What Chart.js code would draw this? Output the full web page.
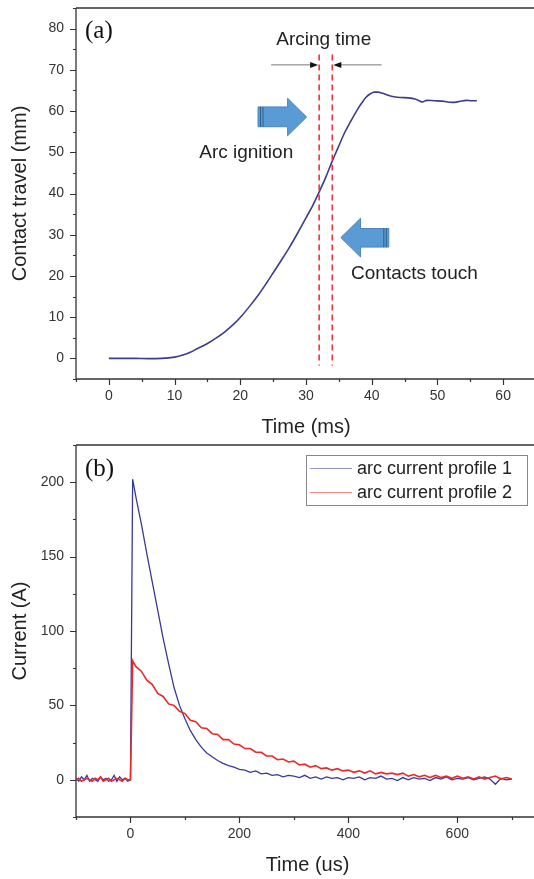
<!DOCTYPE html>
<html>
<head>
<meta charset="utf-8">
<script src="https://cdn.jsdelivr.net/npm/chart.js@4.4.1/dist/chart.umd.min.js"></script>
<style>
html,body{margin:0;padding:0;background:#fff;overflow:hidden;width:534px;height:879px}
#travel{position:absolute;left:0;top:0}
#current{position:absolute;left:0;top:440px}
</style>
</head>
<body>
<canvas id="travel" width="536" height="440"></canvas>
<canvas id="current" width="539" height="439"></canvas>
<script>
// (a) contact travel
let timeMs=[0,2,4,6,8,10,11,12.4,13.5,15,16.3,17.6,19,20.2,21.5,22.8,24,24.9,26.2,27.5,28.8,30,31,31.9,33,33.9,34.9,35.8,36.8,37.8,38.5,39.1,39.8,40.4,41,41.5,42.2,43,44.3,45.6,46.6,47.2,47.7,48.4,49.5,50.8,51.5,52.3,53.3,54.4,55.2,56];
let travelMm=[0,0,0,-0.05,0,0.3,0.7,1.5,2.4,3.6,4.9,6.4,8.3,10.3,12.8,15.5,18.3,20.5,23.7,27,30.6,34.1,37,40,43.9,47.5,51.2,54.5,57.5,60.3,62,63.3,64.2,64.6,64.6,64.4,64,63.6,63.3,63.2,62.9,62.5,62.2,62.6,62.5,62.4,62.2,62.1,62.3,62.6,62.5,62.5];
let xTicksMs=[0,10,20,30,40,50,60];
let yTicksMm=[0,10,20,30,40,50,60,70,80];
let arcIgnition=32, contactsTouch=34;

// (b) arc currents
let timeUs=[-100,-95,-90,-85,-80,-75,-70,-65,-60,-55,-50,-45,-40,-35,-30,-25,-20,-15,-10,-5,0,4,
10,20,30,40,50,60,70,80,90,100,110,120,130,140,150,160,170,180,190,200,
210,220,230,240,250,260,270,280,290,300,310,320,330,340,350,360,370,380,390,400,
410,420,430,440,450,460,470,480,490,500,510,520,530,540,550,560,570,580,590,600,
610,620,630,640,650,660,670,680,690,700];
let current1=[1,-1,2,0,3,-1,1,0,-1,2,0,1,-1,0,3,-1,2,0,1,-1,0,202,
190,172,152,133,114,95,78,62,50,41,33,27,22,18,15.5,13,11,9.5,8.5,7,
6.5,5,6,4,4.5,3,3.5,2,3,2.5,1.5,3,1,2,0.5,2,1,1.5,0,1.5,
1,2,0,1.5,1,2.5,0.5,1,-0.5,1.5,0,1.5,0.5,1,-0.5,1.5,0.5,2,0,1,
0.5,1.5,0,1,2,0.5,-3,1,0,0.5];
let current2=[0,1,-1,0,1,0,-1,1,0,2,-1,0,1,-1,0,1,0,-1,1,0,0,80,
76,73,67,64,58,56,51,50,46,44.5,40,39,35,34.5,31,30.5,27,27,24,23.5,
21,21,18.5,18.5,16,16,13.5,14,12,12.5,10,10.5,8.5,9.5,7.5,8,6.5,7.5,6,6.5,
5,6,4.5,6,4,5,4,4.5,3.5,4.5,2.5,3.5,2,3,1.5,3,1.5,2.5,1,2.5,
1,2,0.5,2,0.5,1.5,2.5,0.5,1.5,0.5];
let seriesNames=['arc current profile 1','arc current profile 2'];
let xTicksUs=[0,200,400,600];
let yTicksA=[0,50,100,150,200];

const SANS='"Liberation Sans", Arial, sans-serif';
const SERIF='"Liberation Serif", "Times New Roman", serif';
Chart.defaults.font.family=SANS;
Chart.defaults.animation=false;

function pts(xs,ys){return xs.map((x,i)=>({x:x,y:ys[i]}));}

// axis lines, top frame line and major/minor tick marks
const frame={
  id:'frame',
  afterDraw(chart){
    const ctx=chart.ctx, a=chart.chartArea, sx=chart.scales.x, sy=chart.scales.y;
    ctx.save();
    ctx.strokeStyle='#333';ctx.lineWidth=1.3;
    ctx.beginPath();
    ctx.moveTo(a.left,a.top);ctx.lineTo(a.left,a.bottom);ctx.lineTo(a.right,a.bottom);
    ctx.moveTo(a.left,a.top);ctx.lineTo(a.right,a.top);
    ctx.stroke();
    ctx.lineWidth=1.2;
    const opt=chart.options.plugins.frame;
    ctx.beginPath();
    for(let k=Math.ceil(sx.min/opt.xMinor);k*opt.xMinor<=sx.max;k++){
      const v=k*opt.xMinor, p=Math.round(sx.getPixelForValue(v))+0.5;
      const len=(v%opt.xMajor===0)?6:3;
      ctx.moveTo(p,a.bottom);ctx.lineTo(p,a.bottom+len);
    }
    for(let k=Math.ceil(sy.min/opt.yMinor);k*opt.yMinor<=sy.max;k++){
      const v=k*opt.yMinor, p=Math.round(sy.getPixelForValue(v))+0.5;
      const len=(v%opt.yMajor===0)?6:3;
      ctx.moveTo(a.left,p);ctx.lineTo(a.left-len,p);
    }
    ctx.stroke();
    ctx.fillStyle='#111';ctx.font='25px '+SERIF;ctx.textBaseline='middle';ctx.textAlign='left';
    ctx.fillText(opt.tag,a.left+9,opt.tagY);
    ctx.restore();
  }
};

function blockArrow(ctx,sx,sy,o){
  const dir=o.dir;
  const xt=sx.getPixelForValue(o.tail), xh=sx.getPixelForValue(o.tip), xb=sx.getPixelForValue(o.base);
  const y1=sy.getPixelForValue(o.top), y2=sy.getPixelForValue(o.bot);
  const s1=sy.getPixelForValue(o.shTop), s2=sy.getPixelForValue(o.shBot);
  const ym=(y1+y2)/2;
  ctx.beginPath();
  ctx.moveTo(xt,s1);ctx.lineTo(xb,s1);ctx.lineTo(xb,y1);ctx.lineTo(xh,ym);
  ctx.lineTo(xb,y2);ctx.lineTo(xb,s2);ctx.lineTo(xt,s2);ctx.closePath();
  ctx.fillStyle='#5b9bd5';ctx.fill();
  ctx.strokeStyle='#4a86bd';ctx.lineWidth=1;ctx.stroke();
  // striped tail
  ctx.strokeStyle='#2f5f8f';ctx.lineWidth=1;
  ctx.beginPath();
  for(let i=1;i<=2;i++){
    const x=xt+dir*i*2.5;
    ctx.moveTo(x,s1);ctx.lineTo(x,s2);
  }
  ctx.stroke();
}

const notes={
  id:'notes',
  afterDatasetsDraw(chart){
    const ctx=chart.ctx, sx=chart.scales.x, sy=chart.scales.y;
    ctx.save();
    // dashed markers
    ctx.strokeStyle='#e8353f';ctx.lineWidth=1.6;ctx.setLineDash([6,4]);
    [arcIgnition,contactsTouch].forEach(t=>{
      const p=sx.getPixelForValue(t);
      ctx.beginPath();ctx.moveTo(p,sy.getPixelForValue(73.7));ctx.lineTo(p,sy.getPixelForValue(-1.7));ctx.stroke();
    });
    ctx.setLineDash([]);
    // arcing-time dimension arrows
    const ya=sy.getPixelForValue(71.2);
    const xl=sx.getPixelForValue(24.7), xr=sx.getPixelForValue(41.5);
    const pa=sx.getPixelForValue(arcIgnition)-1, pb=sx.getPixelForValue(contactsTouch)+1;
    ctx.strokeStyle='#777';ctx.lineWidth=1;
    ctx.beginPath();ctx.moveTo(xl,ya);ctx.lineTo(pa-6,ya);ctx.moveTo(xr,ya);ctx.lineTo(pb+6,ya);ctx.stroke();
    ctx.fillStyle='#111';
    ctx.beginPath();ctx.moveTo(pa,ya);ctx.lineTo(pa-8,ya-3);ctx.lineTo(pa-8,ya+3);ctx.closePath();ctx.fill();
    ctx.beginPath();ctx.moveTo(pb,ya);ctx.lineTo(pb+8,ya-3);ctx.lineTo(pb+8,ya+3);ctx.closePath();ctx.fill();
    // block arrows
    blockArrow(ctx,sx,sy,{dir:1,tail:22.7,base:27.2,tip:30.1,top:63.1,bot:54,shTop:61,shBot:56.2});
    blockArrow(ctx,sx,sy,{dir:-1,tail:42.6,base:38.3,tip:35.3,top:34,bot:24.6,shTop:31.5,shBot:27});
    // labels
    ctx.fillStyle='#222';ctx.font='19px '+SANS;ctx.textAlign='center';ctx.textBaseline='middle';
    ctx.fillText('Arcing time',sx.getPixelForValue(32.7),sy.getPixelForValue(77.2));
    ctx.fillText('Arc ignition',sx.getPixelForValue(20.9),sy.getPixelForValue(49.8));
    ctx.fillText('Contacts touch',sx.getPixelForValue(46.5),sy.getPixelForValue(20.6));
    ctx.restore();
  }
};

const boxLegend={
  id:'boxLegend',
  afterDraw(chart){
    const ctx=chart.ctx;
    ctx.save();
    ctx.fillStyle='#fff';ctx.fillRect(306,15,221,50);
    ctx.strokeStyle='#888';ctx.lineWidth=1;ctx.strokeRect(306.5,15.5,221,50);
    ctx.font='18px '+SANS;ctx.textBaseline='middle';ctx.textAlign='left';
    chart.data.datasets.forEach((d,i)=>{
      const y=28+i*24;
      ctx.globalAlpha=0.55;ctx.strokeStyle=d.borderColor;ctx.lineWidth=1.2;
      ctx.beginPath();ctx.moveTo(310,y+0.5);ctx.lineTo(352,y+0.5);ctx.stroke();
      ctx.globalAlpha=1;ctx.fillStyle='#222';
      ctx.fillText(d.label,357,y+1);
    });
    ctx.restore();
  }
};

function axis(min,max,ticks,title,size,pad,tpad){
  return {
    type:'linear',min:min,max:max,
    afterBuildTicks(s){s.ticks=ticks.map(v=>({value:v}));},
    afterFit(s){
      if(s.isHorizontal()) s.height=size; else s.width=size;
      s.paddingTop=0;s.paddingBottom=0;s.paddingLeft=0;s.paddingRight=0;
    },
    grid:{display:false,drawTicks:false},
    border:{display:false},
    ticks:{font:{size:14},color:'#333',padding:pad},
    title:{display:true,text:title,font:{size:20},color:'#222',padding:tpad}
  };
}

new Chart(document.getElementById('travel'),{
  type:'line',
  data:{datasets:[{
    data:pts(timeMs,travelMm),
    borderColor:'#3c3c8e',borderWidth:1.6,pointRadius:0,cubicInterpolationMode:'monotone'
  }]},
  options:{
    responsive:false,
    layout:{padding:{top:8,right:0,left:0,bottom:0}},
    plugins:{legend:{display:false},tooltip:{enabled:false},
      frame:{xMinor:5,xMajor:10,yMinor:5,yMajor:10,tag:'(a)',tagY:31}},
    scales:{
      x:axis(-5,65,xTicksMs,'Time (ms)',61,9,{top:0,bottom:1}),
      y:axis(-5,85,yTicksMm,'Contact travel (mm)',76,12,{top:8,bottom:0})
    }
  },
  plugins:[notes,frame]
});

new Chart(document.getElementById('current'),{
  type:'line',
  data:{datasets:[
    {label:seriesNames[0],data:pts(timeUs,current1),borderColor:'#3a3a96',borderWidth:1.3,pointRadius:0,tension:0,order:1},
    {label:seriesNames[1],data:pts(timeUs,current2),borderColor:'#ea2a2a',borderWidth:1.6,pointRadius:0,tension:0,order:0}
  ]},
  options:{
    responsive:false,
    layout:{padding:{top:5,right:0,left:0,bottom:0}},
    plugins:{legend:{display:false},tooltip:{enabled:false},
      frame:{xMinor:100,xMajor:200,yMinor:25,yMajor:50,tag:'(b)',tagY:29.5}},
    scales:{
      x:axis(-100,750,xTicksUs,'Time (us)',62,9,{top:0,bottom:2}),
      y:axis(-25,225,yTicksA,'Current (A)',76,12,{top:8,bottom:0})
    }
  },
  plugins:[frame,boxLegend]
});
</script>
</body>
</html>
